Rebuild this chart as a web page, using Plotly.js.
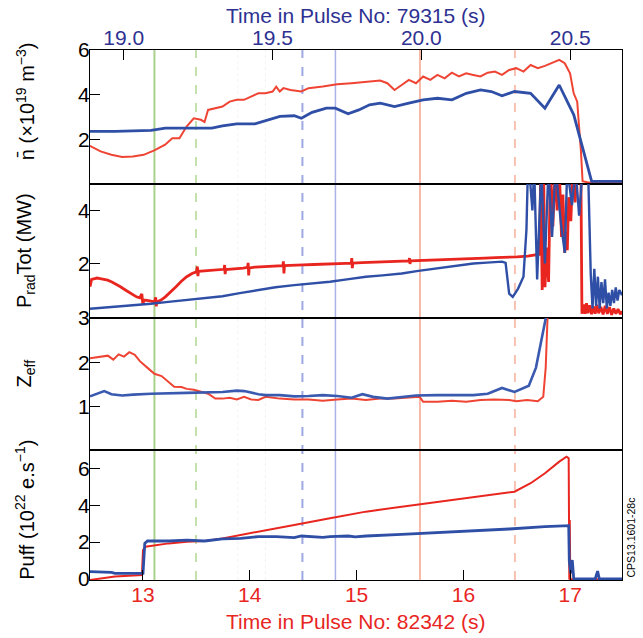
<!DOCTYPE html>
<html><head><meta charset="utf-8">
<script src="https://cdn.plot.ly/plotly-3.0.1.min.js"></script>
<style>html,body{margin:0;padding:0;background:#fff}</style>
</head><body><div id="chart" style="width:643px;height:638px"></div>
<script>
// ---------- DATA ----------
// Pulse 82342 (red, bottom time axis) ; Pulse 79315 (blue, top time axis)
const densRedT = [12.504,12.604,12.705,12.806,12.906,13.007,13.107,13.208,13.275,13.342,13.409,13.476,13.543,13.577,13.610,13.677,13.745,13.812,13.879,13.946,14.013,14.080,14.147,14.214,14.248,14.281,14.315,14.382,14.483,14.550,14.684,14.818,14.952,15.086,15.221,15.288,15.355,15.422,15.489,15.556,15.623,15.690,15.757,15.824,15.891,15.958,16.025,16.092,16.159,16.227,16.294,16.361,16.428,16.495,16.562,16.629,16.696,16.763,16.830,16.897,16.948,16.998,17.032,17.065,17.082,17.099,17.115,17.166,17.484];
const densRedV = [1.73,1.48,1.33,1.23,1.26,1.33,1.53,1.78,2.07,2.07,2.59,2.96,2.89,2.79,3.33,3.41,3.48,3.70,3.78,3.78,3.93,4.07,4.07,4.15,4.37,4.15,4.30,4.22,4.15,4.30,4.37,4.47,4.52,4.59,4.64,4.52,4.22,4.44,4.67,4.52,4.82,4.67,4.89,4.74,4.99,4.82,4.96,4.89,4.82,4.99,5.04,4.89,5.11,5.19,5.04,5.33,5.19,5.29,5.41,5.56,5.41,4.96,4.07,3.70,2.59,1.56,0.15,0.10,0.10];
const densBlueT = [18.887,18.971,19.092,19.140,19.212,19.296,19.332,19.380,19.441,19.489,19.525,19.573,19.597,19.633,19.681,19.711,19.754,19.790,19.826,19.862,19.910,19.958,20.006,20.054,20.103,20.151,20.199,20.235,20.271,20.313,20.367,20.415,20.463,20.512,20.572,20.674];
const densBlueV = [2.37,2.37,2.42,2.52,2.52,2.52,2.62,2.71,2.71,2.89,3.04,3.07,2.96,3.22,3.41,3.41,3.16,3.33,3.56,3.63,3.48,3.63,3.78,3.85,3.78,4.07,4.22,4.15,3.96,4.15,4.07,3.41,4.44,3.11,0.15,0.15];

const pradRedT = [12.505,12.52,12.54,12.57,12.60,12.64,12.67,12.71,12.74,12.79,12.84,12.89,12.94,12.97,12.99,13.00,13.01,13.04,13.08,13.11,13.12,13.125,13.13,13.17,13.21,13.26,13.31,13.36,13.41,13.46,13.50,13.51,13.515,13.52,13.58,13.64,13.70,13.76,13.765,13.77,13.775,13.82,13.88,13.94,13.98,13.985,13.99,13.995,14.05,14.12,14.20,14.28,14.31,14.315,14.32,14.325,14.40,14.50,14.60,14.70,14.80,14.90,14.95,14.955,14.96,14.965,15.05,15.15,15.25,15.35,15.42,15.49,15.495,15.50,15.505,15.60,15.70,15.80,15.90,16.00,16.10,16.20,16.30,16.40,16.50,16.60,16.69,16.713,16.723,16.737,16.750,16.763,16.780,16.797,16.814,16.837,16.857,16.877,16.897,16.918,16.931,16.948,16.958,16.972,16.985,17.005,17.025,17.045,17.065,17.085,17.099,17.109,17.125,17.138,17.152,17.165,17.182,17.199,17.216,17.233,17.249,17.266,17.286,17.307,17.327,17.347,17.367,17.387,17.407,17.427,17.447,17.468,17.484];
const pradRedV = [1.12,1.40,1.42,1.45,1.43,1.40,1.37,1.30,1.24,1.12,0.99,0.86,0.74,0.70,0.85,0.45,0.62,0.61,0.56,0.55,0.72,0.38,0.55,0.62,0.74,0.92,1.12,1.33,1.50,1.62,1.68,1.88,1.52,1.70,1.72,1.73,1.75,1.78,1.94,1.60,1.77,1.78,1.80,1.82,1.85,2.02,1.55,1.83,1.86,1.88,1.90,1.91,1.92,2.08,1.62,1.92,1.94,1.95,1.96,1.98,1.99,2.00,2.00,2.20,1.82,2.01,2.03,2.05,2.06,2.07,2.09,2.10,2.20,1.98,2.10,2.11,2.13,2.14,2.16,2.17,2.18,2.20,2.22,2.23,2.25,2.28,2.32,2.35,5.6,1.0,5.6,1.1,2.6,1.3,5.6,3.4,5.6,4.0,5.6,3.0,4.6,2.4,3.2,2.5,4.5,3.6,5.6,4.3,5.6,5.6,5.6,0.10,0.45,0.10,0.50,0.12,0.42,0.08,0.38,0.10,0.44,0.12,0.36,0.08,0.40,0.10,0.35,0.06,0.30,0.10,0.28,0.08,0.20];
const pradBlueT = [18.887,18.93,18.971,19.03,19.092,19.15,19.212,19.27,19.332,19.39,19.453,19.51,19.573,19.63,19.693,19.75,19.814,19.87,19.934,19.99,20.054,20.11,20.175,20.22,20.271,20.283,20.289,20.295,20.307,20.325,20.343,20.353,20.358,20.362,20.373,20.379,20.389,20.403,20.415,20.427,20.439,20.451,20.469,20.482,20.490,20.506,20.518,20.530,20.542,20.560,20.569,20.575,20.581,20.587,20.593,20.599,20.605,20.611,20.617,20.623,20.629,20.635,20.641,20.647,20.653,20.659,20.665,20.674];
const pradBlueV = [0.29,0.33,0.36,0.40,0.48,0.55,0.63,0.70,0.76,0.88,0.99,1.10,1.18,1.24,1.31,1.40,1.50,1.55,1.62,1.72,1.81,1.90,2.00,2.03,2.07,2.02,1.37,0.86,0.74,1.05,1.50,3.27,5.6,5.6,4.0,5.6,1.4,5.6,2.0,5.6,3.0,5.6,3.5,2.4,5.6,4.2,5.6,3.8,5.6,5.6,1.6,0.3,1.8,0.4,1.5,0.3,1.3,0.5,1.4,0.3,0.9,0.4,1.0,0.5,1.1,0.6,1.0,0.8];

const zeffRedT = [12.505,12.605,12.672,12.723,12.773,12.823,12.873,12.924,12.974,13.041,13.108,13.175,13.242,13.293,13.360,13.410,13.477,13.544,13.611,13.678,13.745,13.812,13.880,13.947,14.014,14.081,14.148,14.282,14.416,14.550,14.684,14.818,14.953,15.087,15.221,15.355,15.489,15.590,15.623,15.757,15.892,16.026,16.160,16.294,16.428,16.495,16.596,16.696,16.747,16.770,16.790];
const zeffRedV = [2.09,2.13,2.15,2.06,2.18,2.13,2.23,2.17,2.02,1.88,1.74,1.69,1.55,1.45,1.44,1.40,1.38,1.33,1.29,1.18,1.18,1.20,1.16,1.22,1.16,1.15,1.22,1.18,1.16,1.16,1.13,1.16,1.18,1.15,1.18,1.18,1.20,1.22,1.11,1.11,1.13,1.11,1.15,1.16,1.15,1.12,1.15,1.12,1.22,1.88,3.2];
const zeffBlueT = [18.887,18.911,18.935,18.959,18.995,19.032,19.092,19.212,19.332,19.380,19.405,19.453,19.477,19.525,19.573,19.621,19.669,19.717,19.766,19.802,19.838,19.886,19.934,19.982,20.054,20.115,20.175,20.223,20.271,20.313,20.361,20.385,20.415,20.421];
const zeffBlueV = [1.23,1.29,1.35,1.28,1.25,1.27,1.29,1.31,1.33,1.36,1.35,1.28,1.26,1.26,1.23,1.24,1.26,1.24,1.20,1.28,1.22,1.18,1.22,1.25,1.26,1.26,1.26,1.29,1.42,1.33,1.47,1.88,2.90,3.1];

const puffRedT = [12.505,12.739,12.991,13.001,13.024,13.242,13.410,13.578,13.745,13.913,14.081,14.416,14.751,15.087,15.422,15.757,16.093,16.478,16.629,16.763,16.897,16.965,16.985,16.991,16.995,17.000,17.484];
const puffRedV = [-0.05,0.13,0.22,1.57,1.75,1.93,2.02,2.06,2.20,2.39,2.57,2.93,3.29,3.65,3.92,4.19,4.46,4.73,5.19,5.73,6.36,6.63,6.54,-0.02,3.2,-0.02,-0.02];
const puffBlueT = [18.887,18.959,18.971,19.062,19.065,19.071,19.080,19.152,19.212,19.272,19.332,19.393,19.453,19.513,19.573,19.597,19.621,19.669,19.693,19.754,19.778,19.814,19.934,20.054,20.175,20.295,20.415,20.495,20.497,20.502,20.507,20.512,20.584,20.592,20.598,20.674];
const puffBlueV = [0.40,0.36,0.31,0.31,0.31,1.93,2.06,2.06,2.11,2.06,2.17,2.20,2.30,2.30,2.24,2.33,2.30,2.26,2.30,2.33,2.28,2.33,2.42,2.51,2.60,2.71,2.84,2.89,0.94,0.31,1.03,0.0,0.0,0.43,0.0,0.0];

const markerTimes = [13.108, 13.497, 13.89, 14.148, 14.493, 14.802, 15.593, 16.482];
const bottomTicks = [13, 14, 15, 16, 17];
const topTicks = [19.0, 19.5, 20.0, 20.5];
const panelTitles = ['n\u0304 (\u00d710<sup>19</sup> m<sup>\u22123</sup>)', 'P<sub>rad</sub>Tot (MW)', 'Z<sub>eff</sub>', 'Puff (10<sup>22</sup> e.s<sup>\u22121</sup>)'];
const yTicks = [[2,4,6],[2,4],[1,2,3],[0,2,4,6]];
const bottomTitle = 'Time in Pulse No: 82342 (s)';
const topTitle = 'Time in Pulse No: 79315 (s)';
const stamp = 'CPS13.1601-28c';

// ---------- STYLE ----------
const RED = '#e8261f', RED2 = '#ef4433', BLUE = '#2f4fa6';
const NAVY = '#2e3192';
const FONT = 'Liberation Sans, Arial, sans-serif';
const xRangeBottom = [12.505, 17.484];
const xRangeTop = [18.887, 20.674];
const yRanges = [[0.03, 6.0], [-0.06, 5.0], [0.02, 3.0], [-0.054, 6.99]];
const domains = [[0.7472, 1], [0.4943, 0.7472], [0.2453, 0.4943], [0, 0.2453]];
const titleShift = [0.03, 0.0, 0.02, 0.01];

function tr(x, y, xa, ya, color, w) {
  return {x: x, y: y, xaxis: xa, yaxis: ya, type: 'scatter', mode: 'lines',
          line: {color: color, width: w}, hoverinfo: 'skip', showlegend: false};
}
const data = [
  tr(densRedT, densRedV, 'x', 'y', RED2, 2),
  tr(densBlueT, densBlueV, 'x5', 'y', BLUE, 2.8),
  tr(pradBlueT, pradBlueV, 'x6', 'y2', BLUE, 2.4),
  tr(pradRedT, pradRedV, 'x2', 'y2', RED, 2.8),
  tr(zeffBlueT, zeffBlueV, 'x7', 'y3', '#3a5ab0', 2.6),
  tr(zeffRedT, zeffRedV, 'x3', 'y3', RED2, 2),
  tr(puffBlueT, puffBlueV, 'x8', 'y4', BLUE, 2.8),
  tr(puffRedT, puffRedV, 'x4', 'y4', RED, 2)
];

const layout = {
  width: 643, height: 638,
  margin: {l: 90, r: 21, t: 50, b: 58},
  paper_bgcolor: '#ffffff', plot_bgcolor: 'rgba(0,0,0,0)',
  font: {family: FONT, size: 21, color: '#000'},
  showlegend: false,
  shapes: [], annotations: []
};
for (let i = 0; i < 4; i++) {
  const n = i + 1;
  const yk = n === 1 ? 'yaxis' : 'yaxis' + n;
  layout[yk] = {
    domain: domains[i], range: yRanges[i], tickvals: yTicks[i], ticktext: yTicks[i].map(String),
    ticks: 'inside', ticklen: 10, tickcolor: '#000', tickwidth: 1,
    showline: true, mirror: true, linecolor: '#000', linewidth: 1,
    showgrid: false, zeroline: false, tickfont: {size: 21, color: '#000', family: FONT},
    ticklabelstandoff: -5,
    anchor: n === 1 ? 'x' : 'x' + n
  };
  const xk = n === 1 ? 'xaxis' : 'xaxis' + n;
  layout[xk] = {
    range: xRangeBottom, anchor: n === 1 ? 'y' : 'y' + n,
    showline: true, mirror: true, linecolor: '#000', linewidth: 1,
    showgrid: false, zeroline: false,
    ticks: n === 4 ? 'inside' : '', ticklen: 10, tickcolor: '#000',
    tickvals: bottomTicks, ticktext: bottomTicks.map(String),
    showticklabels: n === 4, tickfont: {size: 21, color: RED, family: FONT},
    ticklabelstandoff: -4
  };
  const tk = 'xaxis' + (n + 4);
  layout[tk] = {
    range: xRangeTop, overlaying: n === 1 ? 'x' : 'x' + n, anchor: n === 1 ? 'y' : 'y' + n,
    side: 'top', showline: false, showgrid: false, zeroline: false,
    ticks: n === 1 ? 'inside' : '', ticklen: 10, tickcolor: '#000',
    tickvals: topTicks, ticktext: topTicks.map(v => v.toFixed(1)),
    showticklabels: n === 1, tickfont: {size: 21, color: NAVY, family: FONT}
  };
  layout.annotations.push({
    text: panelTitles[i], xref: 'paper', yref: 'paper', x: -0.122,
    y: (domains[i][0] + domains[i][1]) / 2 + titleShift[i],
    xanchor: 'center', yanchor: 'middle', textangle: -90, showarrow: false,
    font: {size: 20, color: '#000', family: FONT}
  });
}
const markerStyles = [
  {color: '#a9d18e', width: 2, dash: 'solid'},
  {color: '#c3e0ad', width: 2, dash: 'dash'},
  {color: '#f2f2f2', width: 1, dash: 'dot'},
  {color: '#f2f2f2', width: 1, dash: 'dot'},
  {color: '#9ea8e2', width: 2, dash: 'dash'},
  {color: '#aab2e6', width: 1.5, dash: 'solid'},
  {color: '#f8b9a6', width: 2, dash: 'solid'},
  {color: '#f8c2b2', width: 2, dash: 'dash'}
];
markerTimes.forEach((t, k) => {
  layout.shapes.push({type: 'line', xref: 'x', yref: 'paper', x0: t, x1: t, y0: 0, y1: 1,
    layer: 'below', line: markerStyles[k]});
});
layout.annotations.push({text: topTitle, xref: 'paper', yref: 'paper', x: 0.5, y: 1.066,
  xanchor: 'center', yanchor: 'middle', showarrow: false, font: {size: 21, color: NAVY, family: FONT}});
layout.annotations.push({text: bottomTitle, xref: 'paper', yref: 'paper', x: 0.5, y: -0.079,
  xanchor: 'center', yanchor: 'middle', showarrow: false, font: {size: 21, color: RED, family: FONT}});
layout.annotations.push({text: stamp, xref: 'paper', yref: 'paper', x: 1.016, y: 0,
  xanchor: 'center', yanchor: 'bottom', textangle: -90, showarrow: false, font: {size: 10.5, color: '#000', family: FONT}});

Plotly.newPlot('chart', data, layout, {staticPlot: true, displayModeBar: false});
</script></body></html>
